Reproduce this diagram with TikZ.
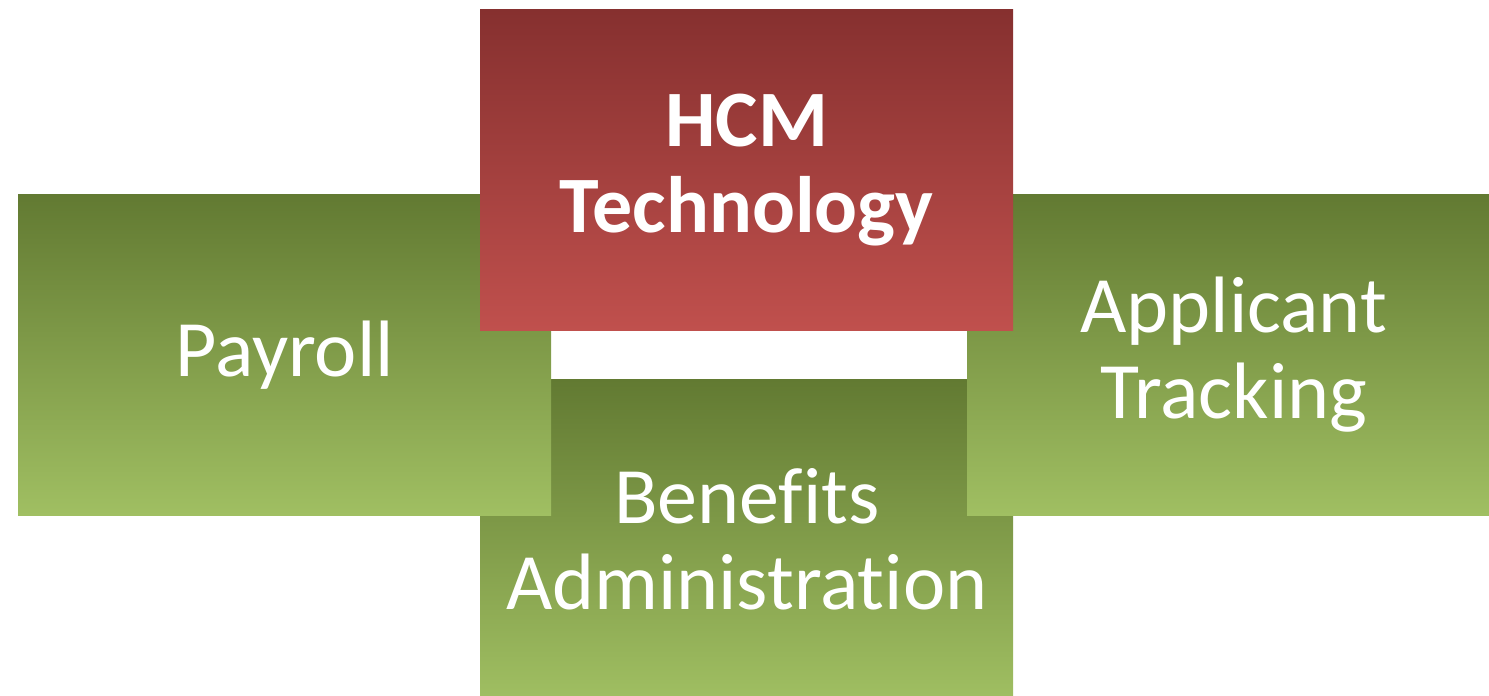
\documentclass[tikz,border=0pt]{standalone}
\usepackage{fontspec}
\setmainfont[Ligatures={NoCommon,NoRare}]{Carlito}
\definecolor{greenTop}{HTML}{627A32}
\definecolor{greenBot}{HTML}{A0BF62}
\definecolor{redTop}{HTML}{86302F}
\definecolor{redBot}{HTML}{C0504D}
\begin{document}
\begin{tikzpicture}[x=1pt,y=-1pt,
  tile/.style={anchor=north west, inner sep=0pt, minimum width=533pt, minimum height=321pt,
    text=white, align=center, font=\fontsize{80}{86}\selectfont},
  greentile/.style={tile, top color=greenTop, bottom color=greenBot},
  redtile/.style={tile, top color=redTop, bottom color=redBot, font=\fontsize{80}{86}\selectfont\bfseries}]
\useasboundingbox (0,0) rectangle (1489,696);
\begin{scope}
\clip (0,0) rectangle (1489,696);
\node[greentile] (benefits) at (480,379) {Benefits\\Administration};
\node[greentile] (payroll) at (18,194) {Payroll};
\node[greentile] (applicant) at (967,194) {Applicant\\Tracking};
\node[redtile] (hcm) at (480,9) {\raisebox{-4pt}{HCM}\\\raisebox{-4pt}{Technology}};
\end{scope}
\end{tikzpicture}
\end{document}
